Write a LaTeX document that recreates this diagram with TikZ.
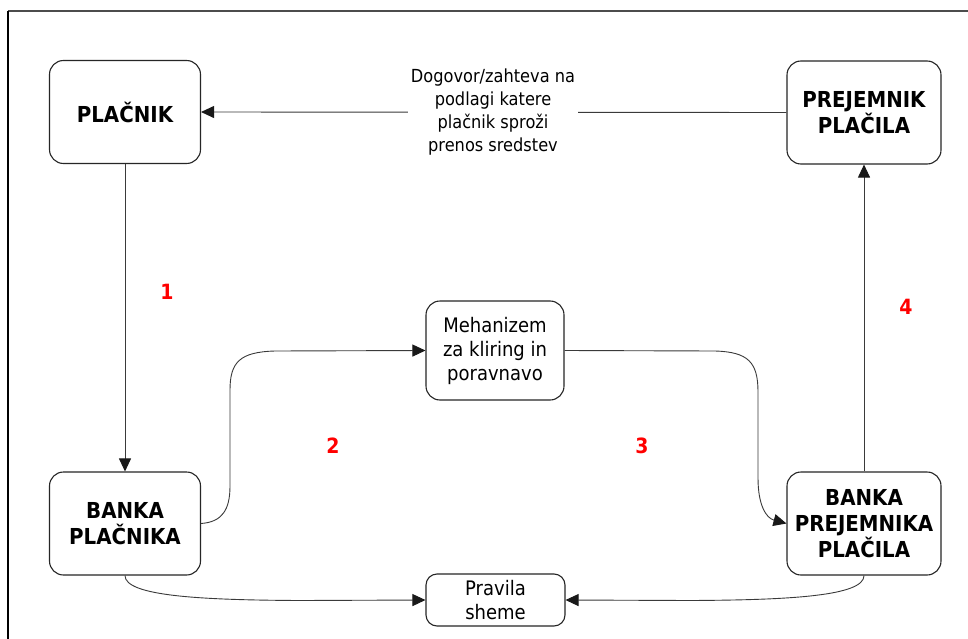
\documentclass[tikz,border=0pt]{standalone}
\usepackage{fontspec}
\setmainfont{DejaVu Sans}[FakeStretch=0.9]
\usetikzlibrary{arrows.meta}
\definecolor{linec}{HTML}{3A3A3A}
\begin{document}
\begin{tikzpicture}[x=1pt,y=-1pt,
  box/.style={draw=black!85, line width=1.1pt, rounded corners=14pt, align=center, inner sep=0pt, fill=white},
  bigtxt/.style={font=\fontsize{22}{26}\selectfont\bfseries},
  smalltxt/.style={font=\fontsize{20}{24}\selectfont},
  conn/.style={draw=linec, line width=0.9pt, -{Triangle[length=13pt,width=12pt,color=black!90]}},
  num/.style={text=red, font=\fontsize{21}{24}\selectfont\bfseries},
  ]
\useasboundingbox (0,0) rectangle (968,639);
\fill[white] (0,0) rectangle (968,639);
\draw[gray!60!black, line width=1.6pt] (968,11) -- (8,11);
\draw[black, line width=1.4pt] (8,11) -- (8,639);

\node[box, bigtxt, minimum width=151pt, minimum height=103pt] (pl) at (125,112) {PLAČNIK};
\node[box, bigtxt, minimum width=154pt, minimum height=103pt] (pp) at (864,112.5) {PREJEMNIK\\PLAČILA};
\node[box, bigtxt, minimum width=151pt, minimum height=103pt] (bp) at (125,523.5) {BANKA\\PLAČNIKA};
\node[box, bigtxt, minimum width=154pt, minimum height=103pt] (bpp) at (864,523.5) {BANKA\\PREJEMNIKA\\PLAČILA};
\node[box, smalltxt, minimum width=138pt, minimum height=99pt] (mz) at (495,350.5) {Mehanizem\\za kliring in\\poravnavo};
\node[box, smalltxt, rounded corners=11pt, minimum width=139pt, minimum height=52pt] (pr) at (495.5,600) {Pravila\\sheme};

\draw[conn] (pp.west) -- (pl.east);
\node[fill=white, inner sep=3pt, align=center, font=\fontsize{18}{23}\selectfont] (lbl) at (493,112) {Dogovor/zahteva na\\podlagi katere\\plačnik sproži\\prenos sredstev};

\draw[conn] (pl.south) -- (bp.north);
\draw[conn] (bpp.north) -- (pp.south);

\draw[conn] (bp.east) .. controls (222,522) and (230,510) .. (230,486) -- (230,390) .. controls (230,362) and (240,352) .. (275,351) -- (mz.west);
\draw[conn] (mz.east) -- (715,351) .. controls (748,352) and (758,362) .. (758,392) -- (758,478) .. controls (758,505) and (766,518) .. (bpp.west);

\draw[conn] (bp.south) .. controls (125,596) and (200,600) .. (300,600.5) -- (pr.west);
\draw[conn] (bpp.south) .. controls (864,596) and (790,600) .. (690,600.5) -- (pr.east);

\node[num] (n1) at (167,292) {1};
\node[num] (n2) at (333,446) {2};
\node[num] (n3) at (642,446) {3};
\node[num] (n4) at (906,307) {4};
\end{tikzpicture}
\end{document}
